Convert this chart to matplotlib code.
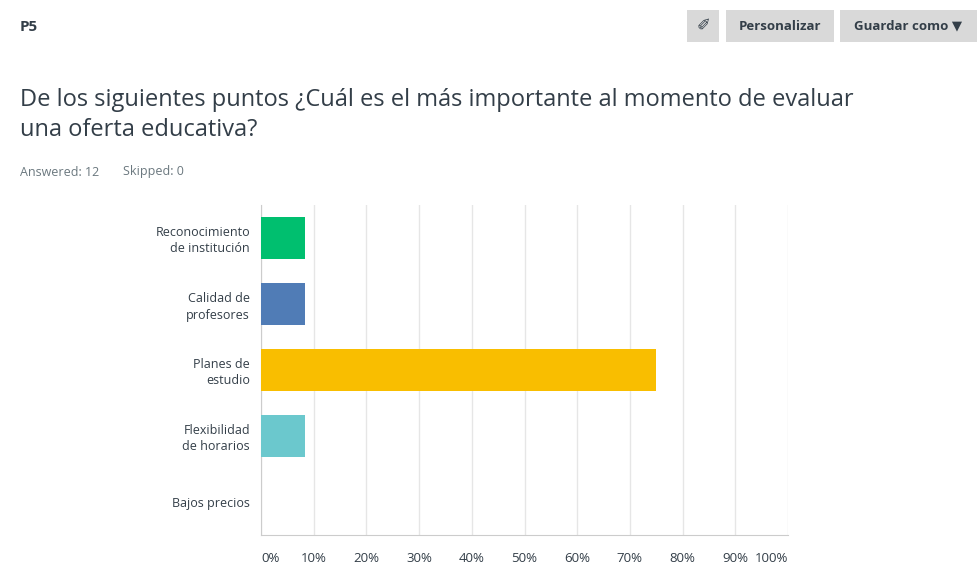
import matplotlib.pyplot as plt
from matplotlib.patches import FancyBboxPatch

categories = ["Reconocimiento\nde institución", "Calidad de\nprofesores", "Planes de\nestudio",
              "Flexibilidad\nde horarios", "Bajos precios"]
values = [8.33, 8.33, 75.0, 8.33, 0.0]
colors = ["#00BF6F", "#507CB6", "#F9BE00", "#6BC8CD", "#D25F90"]
ticks = list(range(0, 101, 10))
tick_labels = [f"{t}%" for t in ticks]

plt.rcParams['font.family'] = ['Open Sans', 'DejaVu Sans']
fig = plt.figure(figsize=(9.8, 5.88), dpi=100)

# header
fig.text(20/980, 1-27/588, "P5", fontsize=11, fontweight='bold', color='#333e48', va='center')
for x0, x1, lbl in [(687, 719, ""), (726, 834, "Personalizar"), (840, 977, "Guardar como \u25BC")]:
    fig.patches.append(FancyBboxPatch((x0/980, 1-42/588), (x1-x0)/980, 32/588,
                                      boxstyle="square,pad=0", transform=fig.transFigure,
                                      facecolor='#d9d9d9', edgecolor='none'))
    if lbl:
        fig.text((x0+x1)/2/980, 1-26/588, lbl, fontsize=9.5, fontweight='bold',
                 color='#333e48', ha='center', va='center')
fig.text(703/980, 1-26/588, "\u2710", fontsize=12, color='#333e48', ha='center', va='center',
         family=['DejaVu Sans'])

fig.text(20/980, 1-100/588, "De los siguientes puntos ¿Cuál es el más importante al momento de evaluar",
         fontsize=17, color='#333e48', va='center')
fig.text(20/980, 1-130/588, "una oferta educativa?", fontsize=17, color='#333e48', va='center')
fig.text(20/980, 1-172/588, "Answered: 12", fontsize=9, color='#6b787f', va='center')
fig.text(123/980, 1-172/588, "Skipped: 0", fontsize=9, color='#6b787f', va='center')

ax = fig.add_axes([261/980, 1-535/588, 527/980, 330/588])
y = list(range(len(categories)))
ax.barh(y, values, height=0.65, color=colors, zorder=3)
ax.set_ylim(len(categories)-0.5, -0.5)
ax.set_xlim(0, 100)
ax.set_yticks(y)
ax.set_yticklabels(categories, fontsize=9, color='#333e48', ha='right', linespacing=1.3)
ax.set_xticks(ticks)
ax.set_xticklabels(tick_labels, fontsize=9.5, color='#333e48')
labs = ax.get_xticklabels()
labs[0].set_ha('left')
labs[-1].set_ha('right')
ax.tick_params(length=0, pad=8)
ax.tick_params(axis='x', pad=12)
ax.grid(axis='x', color='#e6e6e6', lw=1, zorder=0)
for s in ['top', 'right']:
    ax.spines[s].set_visible(False)
ax.spines['left'].set_color('#cccccc')
ax.spines['bottom'].set_color('#cccccc')

fig.savefig('out.png', dpi=100)
